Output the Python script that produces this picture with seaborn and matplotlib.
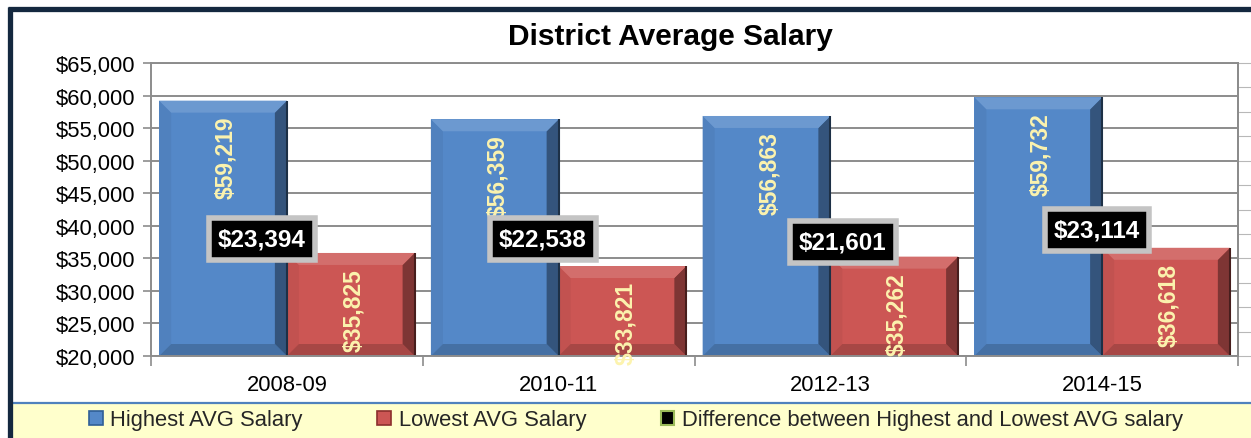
import matplotlib
matplotlib.use("Agg")
import matplotlib.pyplot as plt
import seaborn as sns
import pandas as pd
import numpy as np
from matplotlib.patches import Polygon, Patch, Rectangle
from matplotlib.lines import Line2D
from matplotlib.ticker import FuncFormatter

# ---- data ----
years = ["2008-09", "2010-11", "2012-13", "2014-15"]
highest = [59219, 56359, 56863, 59732]
lowest = [35825, 33821, 35262, 36618]
difference = [23394, 22538, 21601, 23114]
series_names = ["Highest AVG Salary", "Lowest AVG Salary",
                "Difference between Highest and Lowest AVG salary"]

# ---- style ----
blue = "#5488C8"
red = "#CC5654"
label_yellow = "#FCF3AE"
grid_col = "#8C8C8C"
# placement of the difference boxes (style): x offset from group centre, y in data units
box_dx = [-0.092, -0.058, 0.046, -0.019]
box_y = [37970, 37970, 37510, 39350]

sns.set_theme(style="white")
plt.rcParams["font.family"] = ["Liberation Sans", "DejaVu Sans"]

df = pd.DataFrame({
    "year": years * 2,
    "salary": highest + lowest,
    "series": [series_names[0]] * 4 + [series_names[1]] * 4,
})

W, H = 1251, 439
fig = plt.figure(figsize=(W / 100, H / 100), dpi=100)
fig.patch.set_facecolor("white")
ax = fig.add_axes([151 / W, 1 - 357 / H, (1238 - 151) / W, (357 - 64) / H])

sns.barplot(data=df, x="year", y="salary", hue="series", palette=[blue, red],
            width=0.94, saturation=1, ax=ax, legend=False, edgecolor="none",
            errorbar=None)

ax.set_ylim(20000, 65000)
ax.set_xlim(-0.5, 3.5)
ax.set_yticks(np.arange(20000, 65001, 5000))
ax.yaxis.set_major_formatter(FuncFormatter(lambda v, p: f"${v:,.0f}"))
ax.set_xlabel("")
ax.set_ylabel("")
ax.grid(axis="y", color=grid_col, lw=1.4, zorder=0)
ax.set_axisbelow(True)
for s in ax.spines.values():
    s.set_color(grid_col)
    s.set_linewidth(1.4)
ax.tick_params(axis="y", length=6, width=1.2, color=grid_col, pad=5,
               labelsize=15.8, labelcolor="black", left=True)
ax.set_xticks(range(4))
ax.set_xticklabels(years)
ax.tick_params(axis="x", length=0, pad=13, labelsize=15.8, labelcolor="black")
ax.set_xticks(np.arange(-0.5, 4, 1), minor=True)
ax.tick_params(axis="x", which="minor", length=7, width=1.2, color=grid_col,
               bottom=True)

# secondary (empty) axis on the right with small tick marks
ax2 = ax.twinx()
ax2.set_ylim(0, 12)
ax2.set_yticks(range(13))
ax2.set_yticklabels([])
ax2.tick_params(axis="y", length=9, width=0.8, color="#B8B8B8", right=True)
for s in ax2.spines.values():
    s.set_visible(False)
ax2.spines["right"].set_visible(True)
ax2.spines["right"].set_color(grid_col)
ax2.spines["right"].set_linewidth(1.4)

# ---- bevel effect + value labels ----
ax_w_px = (1238 - 151)
ax_h_px = (357 - 64)
bpx = 12
dx = bpx / ax_w_px * 4.0
dy = bpx / ax_h_px * 45000.0
ybot = 20000

def shade(c, f):
    c = np.array(matplotlib.colors.to_rgb(c))
    if f > 0:
        c = c + (1 - c) * f
    else:
        c = c * (1 + f)
    return np.clip(c, 0, 1)

bars = [p for p in ax.patches if p.get_height() > 0]
for p in bars:
    x0 = p.get_x()
    x1 = x0 + p.get_width()
    y1 = p.get_height()
    y0 = max(p.get_y(), ybot)
    base = p.get_facecolor()
    top = [(x0, y1), (x1, y1), (x1 - dx, y1 - dy), (x0 + dx, y1 - dy)]
    right = [(x1, y1), (x1, y0), (x1 - dx, y0 + dy), (x1 - dx, y1 - dy)]
    bottom = [(x0, y0), (x1, y0), (x1 - dx, y0 + dy), (x0 + dx, y0 + dy)]
    left = [(x0, y1), (x0, y0), (x0 + dx, y0 + dy), (x0 + dx, y1 - dy)]
    for poly, f in [(left, -0.05), (bottom, -0.18), (right, -0.38), (top, 0.14)]:
        ax.add_patch(Polygon(poly, closed=True, fc=shade(base, f), ec="none",
                             zorder=p.get_zorder() + 0.1))
    # thin dark outline on the right edge
    ax.add_patch(Polygon([(x1, y1), (x1, y0)], closed=False, fill=False,
                         ec=shade(base, -0.65), lw=1.5,
                         zorder=p.get_zorder() + 0.2))

# value labels (rotated) inside the bars at the top
for cont in ax.containers:
    for p in cont.patches:
        v = p.get_height()
        ax.annotate(f"${v:,.0f}", (p.get_x() + p.get_width() / 2, v),
                    xytext=(2, -11), textcoords="offset points",
                    rotation=90, ha="center", va="top", color=label_yellow,
                    fontsize=16.5, fontweight="bold", zorder=5)

# difference boxes
for i, d in enumerate(difference):
    ax.text(i + box_dx[i], box_y[i], f"${d:,.0f}", ha="center", va="center",
            color="white", fontsize=17.5, fontweight="bold", zorder=8,
            bbox=dict(boxstyle="square,pad=0.38", fc="black", ec="#C4C4C4", lw=4))

# ---- title ----
fig.text(670 / W, 1 - 37 / H, "District Average Salary", ha="center", va="center",
         fontsize=21.5, fontweight="bold", color="black")

# ---- legend band ----
fig.patches.append(Rectangle((12 / W, 0), 1 - 12 / W, (439 - 403) / H,
                             transform=fig.transFigure, fc="#FFFFCC", ec="none",
                             zorder=0))
fig.lines.append(Line2D([12 / W, 1], [1 - 403.5 / H, 1 - 403.5 / H],
                        transform=fig.transFigure, color="#4F81BD", lw=1.6))
handles = [Patch(fc=blue, ec="#2F5F96", lw=1.2),
           Patch(fc=red, ec="#8C2F2D", lw=1.2),
           Patch(fc="black", ec="#9BBB59", lw=1.5)]
fig.legend(handles, series_names, loc="center", bbox_to_anchor=(636 / W, 1 - 421 / H),
           ncol=3, frameon=False, fontsize=15.8, handlelength=0.62, handleheight=0.62,
           handletextpad=0.35, columnspacing=3.4, borderpad=0, borderaxespad=0)

# ---- outer frame ----
navy = "#14283F"
fig.lines.append(Line2D([7.5 / W, 1], [1 - 9.5 / H, 1 - 9.5 / H],
                        transform=fig.transFigure, color=navy, lw=3.8,
                        solid_capstyle="butt"))
fig.lines.append(Line2D([9.8 / W, 9.8 / W], [0, 1 - 7.5 / H],
                        transform=fig.transFigure, color=navy, lw=3.8,
                        solid_capstyle="butt"))

fig.savefig("out.png", dpi=100, facecolor="white")
